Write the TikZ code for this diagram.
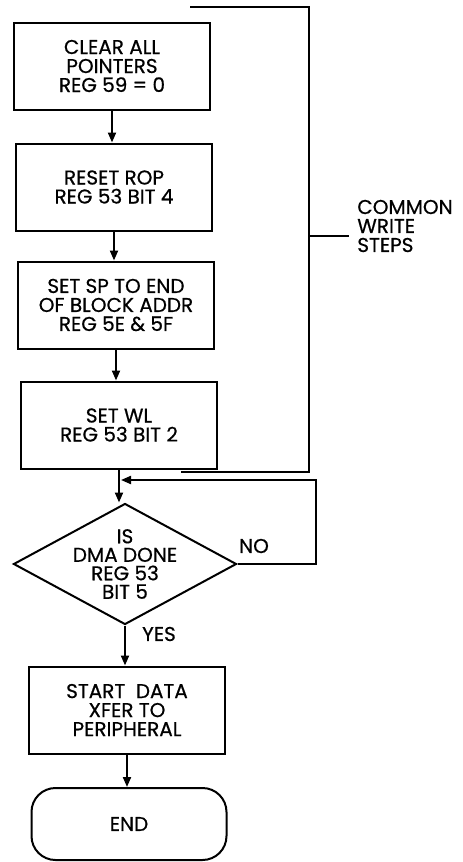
\documentclass[tikz,border=0pt]{standalone}
\usepackage{fontspec}
\setmainfont{Poppins}[FakeBold=0.6]
\usetikzlibrary{shapes.geometric,arrows.meta}
\tikzset{
  stepbox/.style={draw,line width=2pt,align=center,minimum width=196pt,minimum height=87pt,inner sep=2pt,font=\fontsize{20}{19}\selectfont},
  testbox/.style={draw,diamond,line width=2pt,minimum width=223pt,minimum height=121pt,inner sep=0pt},
  testtext/.style={align=center,inner sep=0pt,font=\fontsize{20}{18.5}\selectfont},
  endbox/.style={draw,rounded corners=24pt,line width=2pt,align=center,minimum width=195pt,minimum height=72pt,font=\fontsize{20}{19}\selectfont},
  lbl/.style={align=left,font=\fontsize{20}{19}\selectfont}
}
\begin{document}
\begin{tikzpicture}[x=1pt,y=-1pt,>={Triangle[length=10pt,width=8pt]},line width=2pt]
\useasboundingbox (0,0) rectangle (463,862);
\node[stepbox] (clear) at (112,66) {CLEAR ALL\\POINTERS\\REG 59 = 0};
\node[stepbox] (rop) at (114,187) {RESET ROP\\REG 53 BIT 4};
\node[stepbox] (sp) at (116,305) {SET SP TO END\\OF BLOCK ADDR\\REG 5E \& 5F};
\node[stepbox] (wl) at (119,425) {SET WL\\REG 53 BIT 2};
\node[testbox,label={[testtext]center:{IS\\DMA DONE\\REG 53\\BIT 5}}] (dma) at (125,564) {};
\node[stepbox] (xfer) at (127,710) {START~ DATA\\XFER TO\\PERIPHERAL};
\node[endbox] (end) at (129,824) {END};
\draw[->] (clear.south) -- (clear.south |- rop.north);
\draw[->] (rop.south) -- (rop.south |- sp.north);
\draw[->] (sp.south) -- (sp.south |- wl.north);
\draw[->] (wl.south) -- (wl.south |- dma.north);
\draw[->] (dma.south) -- (dma.south |- xfer.north);
\draw[->] (xfer.south) -- (xfer.south |- end.north);
% loop back
\coordinate (join) at (121,480);
\draw[->] (dma.east) -- (316,564) |- (join);
\node[lbl] (no) at (254,546) {NO};
\node[lbl] (yes) at (159,634) {YES};
% bracket
\coordinate (btop) at (190,7);
\coordinate (bbot) at (181,472);
\coordinate (bmid) at (309,236);
\draw (btop) -- (309,7) -- (309,472) -- (bbot);
\draw (bmid) -- (349,236);
\node[lbl,anchor=west] (common) at (353,226) {COMMON\\WRITE\\STEPS};
\end{tikzpicture}
\end{document}
